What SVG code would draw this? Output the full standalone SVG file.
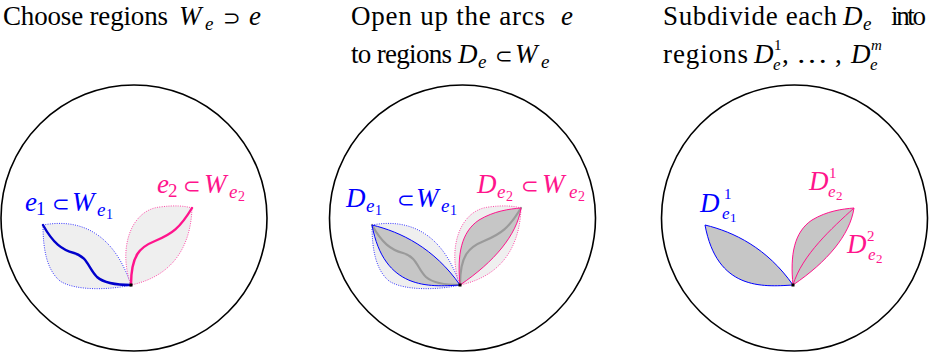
<svg xmlns="http://www.w3.org/2000/svg" xmlns:xlink="http://www.w3.org/1999/xlink" width="936" height="353" viewBox="0 0 936 353">
<style>
.t{font-family:"Liberation Serif","DejaVu Serif",serif;font-size:27px;fill:#000}
.mi{font-style:italic}
.sub{font-size:19px}
.sub2{font-size:17px}
.sup{font-size:15px}
.ss{font-size:14px}
.ss2{font-size:13px}
.rel{font-family:"DejaVu Sans",sans-serif;font-size:21px;font-style:normal}
.blue{fill:#0000ff}
.pink{fill:#ff148c}
.disk{fill:none;stroke:#000;stroke-width:1.6}
.W{fill:#efefef;stroke-width:1;stroke-dasharray:1 1.3}
.Wb{stroke:#3a3aff}
.Wp{stroke:#ff4aa8}
.D{fill:#c6c6c6;stroke:none}
.Db{fill:none;stroke:#0000ff;stroke-width:1}
.Dp{fill:none;stroke:#ff148c;stroke-width:1}
.arc{fill:none;stroke-width:2.4;stroke-linecap:round}
.gray{fill:none;stroke:#9a9a9a;stroke-width:2.2;stroke-linecap:round}
</style>
<defs>
<path id="W1" d="M43,225 C75,219 112,228 131,285 C110,290 75,291 60,281 C47,270 43,250 43,225 Z"/>
<path id="W2" d="M131,285 C118,250 130,210 160,207 C175,205 185,206 192,208 C191,240 178,275 131,285 Z"/>
<path id="E1" d="M43,225 C53,243 62,250 74,253 C88,257 88,268 97,277 C105,284 118,285 131,285"/>
<path id="E2" d="M131,285 C131,255 140,247 155,241 C172,234 180,228 192,208"/>
<path id="D1" d="M43,225 C72,232 105,248 131,285 C100,287 55,290 43,225 Z"/>
<path id="D2" d="M131,285 C128,255 132,232 150,220 C165,211 180,209 192,208 C188,235 165,262 131,285 Z"/>
<path id="D2m" d="M192,208 C170,228 140,255 131,285"/>
</defs>

<!-- titles -->
<g id="title1" class="t">
<text x="3" y="25" textLength="165">Choose regions</text>
<text class="t mi" x="179" y="25">W</text>
<text class="t mi sub" x="205" y="30">e</text>
<text class="t rel" x="223" y="25">⊃</text>
<text class="t mi" x="249" y="25">e</text>
</g>
<g id="title2" class="t">
<text x="351" y="25" textLength="194">Open up the arcs</text>
<text class="t mi" x="561" y="25">e</text>
<text x="351" y="63" textLength="101">to regions</text>
<text class="t mi" x="458" y="63">D</text>
<text class="t mi sub" x="478" y="68">e</text>
<text class="t rel" x="495" y="63">⊂</text>
<text class="t mi" x="515" y="63">W</text>
<text class="t mi sub" x="541" y="68">e</text>
</g>
<g id="title3" class="t">
<text x="663" y="25" textLength="174">Subdivide each</text>
<text class="t mi" x="843" y="25">D</text>
<text class="t mi sub" x="863" y="30">e</text>
<text x="891" y="25" textLength="35">into</text>
<text x="663" y="63" textLength="85">regions</text>
<text class="t mi" x="754" y="63">D</text>
<text class="t sup" x="774" y="50">1</text>
<text class="t mi sub2" x="773" y="70">e</text>
<text x="782" y="63">,</text>
<text x="796" y="63" textLength="32" lengthAdjust="spacingAndGlyphs">…</text>
<text x="835" y="63">,</text>
<text class="t mi" x="851" y="63">D</text>
<text class="t mi sup" x="871" y="50">m</text>
<text class="t mi sub2" x="870" y="70">e</text>
</g>

<!-- disks -->
<g id="disks">
<circle class="disk" cx="134" cy="218" r="133"/>
<circle class="disk" cx="462.5" cy="218" r="133"/>
<circle class="disk" cx="794.5" cy="218" r="133"/>
</g>

<!-- panel 1 -->
<g id="panel1">
<g id="W_e1"><use xlink:href="#W1" class="W Wb"/></g>
<g id="W_e2"><use xlink:href="#W2" class="W Wp"/></g>
<g id="connectors1">
<use xlink:href="#E1" class="arc" stroke="#0000cc"/>
<use xlink:href="#E2" class="arc" stroke="#ff148c"/>
</g>
<rect x="129.5" y="283.5" width="3" height="3" fill="#000"/>
<g id="label_e1">
<text class="t mi blue" x="25" y="211">e</text>
<text class="t sub blue" x="36" y="215">1</text>
<text class="t rel blue" x="52" y="211">⊂</text>
<text class="t mi blue" x="72" y="211">W</text>
<text class="t mi sub blue" x="97" y="216">e</text>
<text class="t ss blue" x="106" y="219">1</text>
</g>
<g id="label_e2">
<text class="t mi pink" x="157" y="193">e</text>
<text class="t sub pink" x="168" y="197">2</text>
<text class="t rel pink" x="183" y="193">⊂</text>
<text class="t mi pink" x="204" y="193">W</text>
<text class="t mi sub pink" x="229" y="198">e</text>
<text class="t ss pink" x="238" y="201">2</text>
</g>
</g>

<!-- panel 2 -->
<g id="panel2">
<g transform="translate(329,0)">
<g id="W_e1b"><use xlink:href="#W1" class="W Wb"/></g>
<g id="W_e2b"><use xlink:href="#W2" class="W Wp"/></g>
<g id="D_e1"><use xlink:href="#D1" class="D"/></g>
<g id="D_e2"><use xlink:href="#D2" class="D"/></g>
<g id="connectors2">
<use xlink:href="#E1" class="gray"/>
<use xlink:href="#E2" class="gray"/>
</g>
<use xlink:href="#D1" class="Db"/>
<use xlink:href="#D2" class="Dp"/>
<rect x="129.5" y="283.5" width="3" height="3" fill="#000"/>
</g>
<g id="label_De1">
<text class="t mi blue" x="346" y="207">D</text>
<text class="t mi sub blue" x="366" y="212">e</text>
<text class="t ss blue" x="375" y="215">1</text>
<text class="t rel blue" x="397" y="207">⊂</text>
<text class="t mi blue" x="416" y="207">W</text>
<text class="t mi sub blue" x="441" y="212">e</text>
<text class="t ss blue" x="450" y="215">1</text>
</g>
<g id="label_De2">
<text class="t mi pink" x="477" y="193">D</text>
<text class="t mi sub pink" x="497" y="198">e</text>
<text class="t ss pink" x="506" y="201">2</text>
<text class="t rel pink" x="521" y="193">⊂</text>
<text class="t mi pink" x="542" y="193">W</text>
<text class="t mi sub pink" x="569" y="198">e</text>
<text class="t ss pink" x="578" y="201">2</text>
</g>
</g>

<!-- panel 3 -->
<g id="panel3">
<g transform="translate(662,0)">
<g id="D1_e1"><use xlink:href="#D1" class="D"/><use xlink:href="#D1" class="Db"/></g>
<g id="D_e2_split"><use xlink:href="#D2" class="D"/><use xlink:href="#D2" class="Dp"/></g>
<g id="connectors3"><use xlink:href="#D2m" class="Dp"/></g>
<rect x="129.5" y="283.5" width="3" height="3" fill="#000"/>
</g>
<g id="label_D1e1">
<text class="t mi blue" x="700" y="212">D</text>
<text class="t sup blue" x="724" y="199">1</text>
<text class="t mi sub2 blue" x="722" y="219">e</text>
<text class="t ss2 blue" x="730" y="222">1</text>
</g>
<g id="label_D1e2">
<text class="t mi pink" x="809" y="190">D</text>
<text class="t sup pink" x="829" y="178">1</text>
<text class="t mi sub2 pink" x="828" y="197">e</text>
<text class="t ss2 pink" x="836" y="200">2</text>
</g>
<g id="label_D2e2">
<text class="t mi pink" x="847" y="253">D</text>
<text class="t sup pink" x="867" y="241">2</text>
<text class="t mi sub2 pink" x="868" y="260">e</text>
<text class="t ss2 pink" x="876" y="263">2</text>
</g>
</g>
</svg>
